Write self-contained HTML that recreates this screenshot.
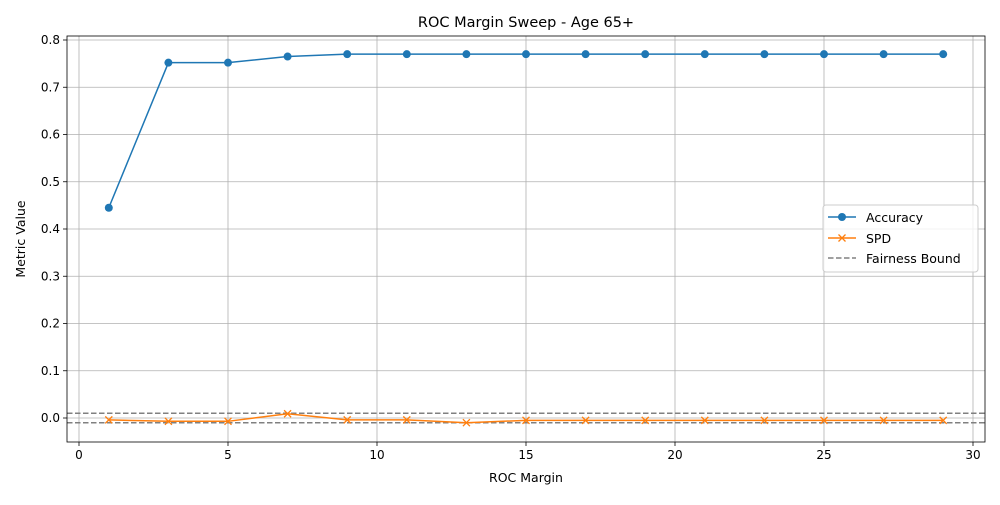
<!DOCTYPE html>
<html><head><meta charset="utf-8"><style>
body{margin:0;background:#fff;font-family:"Liberation Sans","DejaVu Sans",sans-serif}
text{font-family:"DejaVu Sans","Liberation Sans",sans-serif;}
</style></head><body>
<svg id="c" width="1000" height="500" xmlns="http://www.w3.org/2000/svg"></svg>
<script>
const margins=[1,3,5,7,9,11,13,15,17,19,21,23,25,27,29];
const accuracy=[0.445,0.752,0.752,0.765,0.770,0.770,0.770,0.770,0.770,0.770,0.770,0.770,0.770,0.770,0.770];
const spd=[-0.004,-0.007,-0.007,0.009,-0.004,-0.004,-0.010,-0.005,-0.005,-0.005,-0.005,-0.005,-0.005,-0.005,-0.005];
const bounds=[0.01,-0.01];
const xTicks=[0,5,10,15,20,25,30];
const yTicks=[0,0.1,0.2,0.3,0.4,0.5,0.6,0.7,0.8];
const L=67,R=985,T=36,B=442;
const sx=v=>79+(v-0)*(973-79)/30;
const sy=v=>418-v*(418-40)/0.8;
const svg=document.getElementById('c');
const NS='http://www.w3.org/2000/svg';
function mk(tag,attrs,parent){const e=document.createElementNS(NS,tag);for(const k in attrs)e.setAttribute(k,attrs[k]);(parent||svg).appendChild(e);return e;}
// grid
xTicks.forEach(t=>{const x=sx(t);
const g=mk('line',{x1:x,x2:x,y1:T,y2:B,stroke:'#b0b0b0','stroke-width':0.8});


mk('line',{x1:x,x2:x,y1:B,y2:B+4,stroke:'#000','stroke-width':0.8});
const tx=mk('text',{x:x,y:B+17,'text-anchor':'middle','font-size':12});tx.textContent=t;

});
yTicks.forEach(t=>{const y=sy(t);
const g=mk('line',{x1:L,x2:R,y1:y,y2:y,stroke:'#b0b0b0','stroke-width':0.8});


mk('line',{x1:L-4,x2:L,y1:y,y2:y,stroke:'#000','stroke-width':0.8});
const tx=mk('text',{x:L-7,y:y+4,'text-anchor':'end','font-size':12});tx.textContent=t.toFixed(1);

});
// bounds
bounds.forEach(b=>{const l=mk('line',{x1:L,x2:R,y1:sy(b),y2:sy(b),stroke:'#808080','stroke-width':1.5,'stroke-dasharray':'5.5,2.5'});

});
// accuracy
const ap=mk('polyline',{points:margins.map((m,i)=>sx(m)+','+sy(accuracy[i])).join(' '),fill:'none',stroke:'#1f77b4','stroke-width':1.5});


margins.forEach((m,i)=>{const c=mk('circle',{cx:sx(m),cy:sy(accuracy[i]),r:4,fill:'#1f77b4'});

});
// spd
const sp=mk('polyline',{points:margins.map((m,i)=>sx(m)+','+sy(spd[i])).join(' '),fill:'none',stroke:'#ff7f0e','stroke-width':1.5});


margins.forEach((m,i)=>{const x=sx(m),y=sy(spd[i]);
const p=mk('path',{d:`M${x-3.5},${y-3.5}L${x+3.5},${y+3.5}M${x-3.5},${y+3.5}L${x+3.5},${y-3.5}`,stroke:'#ff7f0e','stroke-width':1.3});

});
// frame
const f=mk('rect',{x:L,y:T,width:R-L,height:B-T,fill:'none',stroke:'#000','stroke-width':0.8});


</script>
<script>
(function(){const svg=document.getElementById('c');const NS='http://www.w3.org/2000/svg';
function mk(tag,attrs){const e=document.createElementNS(NS,tag);for(const k in attrs)e.setAttribute(k,attrs[k]);svg.appendChild(e);return e;}
let t=mk('text',{x:526,y:27,'text-anchor':'middle','font-size':14.5});t.textContent='ROC Margin Sweep - Age 65+';


t=mk('text',{x:526,y:482,'text-anchor':'middle','font-size':12.5});t.textContent='ROC Margin';


t=mk('text',{x:25,y:239,'text-anchor':'middle','font-size':12.5,transform:'rotate(-90 25 239)'});t.textContent='Metric Value';


const lg=mk('rect',{x:823,y:205,width:155,height:67,fill:'#fff','fill-opacity':0.8,stroke:'#ccc',rx:3});


mk('line',{x1:828,x2:856,y1:217,y2:217,stroke:'#1f77b4','stroke-width':1.5});
mk('circle',{cx:842,cy:217,r:4,fill:'#1f77b4'});
t=mk('text',{x:866,y:222,'font-size':12.5});t.textContent='Accuracy';


mk('line',{x1:828,x2:856,y1:238,y2:238,stroke:'#ff7f0e','stroke-width':1.5});
mk('path',{d:'M838.5,234.5L845.5,241.5M838.5,241.5L845.5,234.5',stroke:'#ff7f0e','stroke-width':1.3});
t=mk('text',{x:866,y:243,'font-size':12.5});t.textContent='SPD';


mk('line',{x1:828,x2:856,y1:258,y2:258,stroke:'#808080','stroke-width':1.5,'stroke-dasharray':'5.5,2.5'});
t=mk('text',{x:866,y:263,'font-size':12.5});t.textContent='Fairness Bound';


})();
</script>
</body></html>
